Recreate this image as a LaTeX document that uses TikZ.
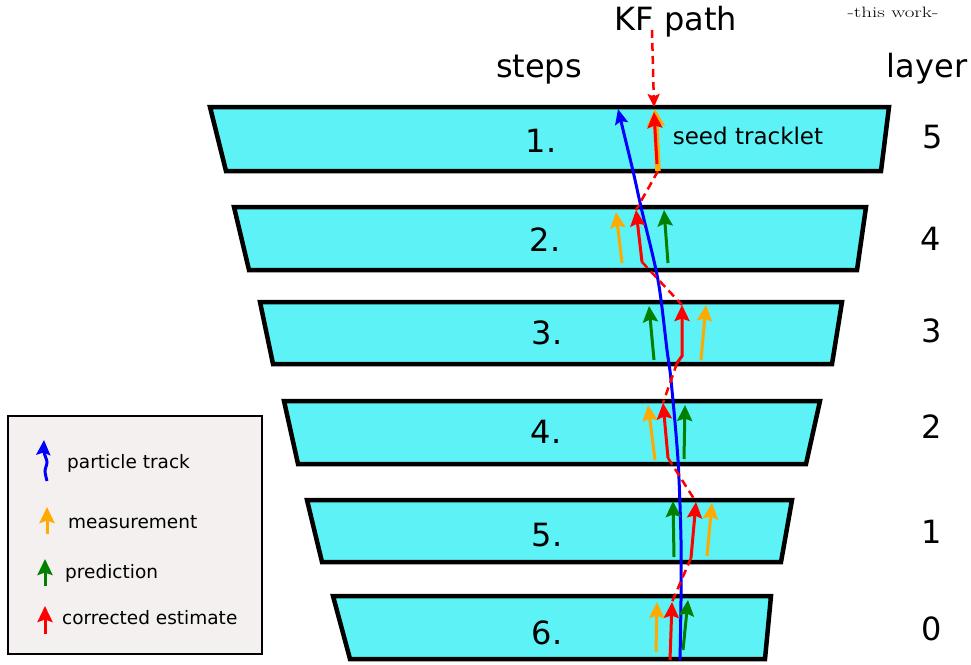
\documentclass[tikz,border=0pt]{standalone}
\usepackage{fontspec}
\newfontfamily\dv{DejaVu Sans}
\usetikzlibrary{arrows.meta}
\definecolor{layercyan}{HTML}{5DF2F5}
\definecolor{legbg}{HTML}{F4F0EF}
\definecolor{meas}{HTML}{FFAA00}
\definecolor{pred}{HTML}{008000}
\begin{document}
\begin{tikzpicture}[x=1pt,y=-1pt,
  layerbox/.style={draw=black,line width=4.5pt,fill=layercyan,line join=miter},
  numlbl/.style={font=\dv\fontsize{32}{38}\selectfont,anchor=base,inner sep=0pt},
  headlbl/.style={font=\dv\fontsize{32}{38}\selectfont,anchor=base,inner sep=0pt},
  leglbl/.style={font=\dv\fontsize{18.5}{22}\selectfont,anchor=base west,inner sep=0pt},
  vec/.style={line width=3pt,-{Stealth[length=16pt,width=15pt,inset=2.5pt]}},
  measvec/.style={vec,meas},
  predvec/.style={vec,pred},
  corrvec/.style={vec,red},
  kf/.style={red,line width=2.5pt,dash pattern=on 8pt off 5pt},
]
\useasboundingbox (0,0) rectangle (971,664);

% layers
\draw[layerbox] (210,107) -- (889,107) -- (881,171) -- (226,171) -- cycle;
\draw[layerbox] (234,207) -- (866,207) -- (857,270) -- (249,270) -- cycle;
\draw[layerbox] (260,302) -- (842,302) -- (832,364) -- (273,364) -- cycle;
\draw[layerbox] (284,401) -- (820,401) -- (806,464) -- (298,464) -- cycle;
\draw[layerbox] (307,500) -- (792,500) -- (781,562) -- (322,562) -- cycle;
\draw[layerbox] (333,596) -- (771,596) -- (765,659) -- (350,659) -- cycle;

% headings
\node[headlbl] (kfpath) at (676,30) {KF path};
\node[headlbl] (steps) at (539,77) {steps};
\node[headlbl] (layer) at (927,77) {layer};
\node[anchor=base,inner sep=0pt,font=\rmfamily\fontsize{15}{18}\selectfont] (thiswork) at (893,17) {\scalebox{1.4}[1]{-this work-}};

% step numbers
\node[numlbl] (s1) at (541,152) {1.};
\node[numlbl] (s2) at (545,251) {2.};
\node[numlbl] (s3) at (547,344) {3.};
\node[numlbl] (s4) at (546,443) {4.};
\node[numlbl] (s5) at (547,546) {5.};
\node[numlbl] (s6) at (547,644) {6.};

% layer numbers
\node[numlbl] (l5) at (933,148) {5};
\node[numlbl] (l4) at (931,250) {4};
\node[numlbl] (l3) at (932,342) {3};
\node[numlbl] (l2) at (932,438) {2};
\node[numlbl] (l1) at (932,543) {1};
\node[numlbl] (l0) at (932,640) {0};

\node[font=\dv\fontsize{23}{27}\selectfont,anchor=base,inner sep=0pt] (seed) at (748,144) {seed tracklet};

% coordinates of vectors
\coordinate (kftop) at (652,30);
\coordinate (kfin) at (654,107);
% layer 5 (seed)
\coordinate (o5b) at (658,171); \coordinate (o5t) at (655,109);
\coordinate (r5b) at (657,164); \coordinate (r5t) at (654,112);
% layer 4
\coordinate (o4b) at (622,263); \coordinate (o4t) at (616,212);
\coordinate (g4b) at (668,263); \coordinate (g4t) at (664,210);
\coordinate (r4b) at (642,262); \coordinate (r4t) at (636,210);
% layer 3
\coordinate (o3b) at (701,360); \coordinate (o3t) at (706,305);
\coordinate (g3b) at (654,360); \coordinate (g3t) at (649,306);
\coordinate (r3k) at (677,363); \coordinate (r3b) at (682,356); \coordinate (r3t) at (682,305);
% layer 2
\coordinate (o2b) at (655,460); \coordinate (o2t) at (648,405);
\coordinate (g2b) at (684,459); \coordinate (g2t) at (685,405);
\coordinate (r2b) at (668,458); \coordinate (r2t) at (663,403);
% layer 1
\coordinate (o1b) at (707,556); \coordinate (o1t) at (712,503);
\coordinate (g1b) at (674,557); \coordinate (g1t) at (673,501);
\coordinate (r1b) at (691,558); \coordinate (r1t) at (696,502);
% layer 0
\coordinate (o0b) at (656,652); \coordinate (o0t) at (657,602);
\coordinate (g0b) at (683,650); \coordinate (g0t) at (688,600);
\coordinate (r0b) at (670,660); \coordinate (r0t) at (672,602);

% particle track
\draw[blue,line width=3pt,-{Stealth[length=15pt,width=13pt,inset=2.5pt]}]
  plot[smooth] coordinates {(680,660) (681,600) (681,540) (678,460) (671,380) (667,350) (658,280) (641,207) (633,171) (618,109)};

% KF dashed path
\draw[kf,-{Stealth[length=13pt,width=12pt,inset=2.5pt]}] (kftop) -- (kfin);
\draw[kf] (o5b) -- (r4t);
\draw[kf] (r4b) -- (r3t);
\draw[kf] (r3k) -- (r2t);
\draw[kf] (r2b) -- (r1t);
\draw[kf] (r1b) -- (r0t);

% seed
\draw[meas,line width=5.5pt,-{Stealth[length=17pt,width=18pt,inset=3pt]}] (o5b) -- (o5t);
\draw[corrvec] (r5b) -- (r5t);

% measurements
\draw[measvec] (o4b) -- (o4t);
\draw[measvec] (o3b) -- (o3t);
\draw[measvec] (o2b) -- (o2t);
\draw[measvec] (o1b) -- (o1t);
\draw[measvec] (o0b) -- (o0t);
% predictions
\draw[predvec] (g4b) -- (g4t);
\draw[predvec] (g3b) -- (g3t);
\draw[predvec] (g2b) -- (g2t);
\draw[predvec] (g1b) -- (g1t);
\draw[predvec] (g0b) -- (g0t);
% corrected
\draw[corrvec] (r4b) -- (r4t);
\draw[corrvec] (r3k) -- (r3b) -- (r3t);
\draw[corrvec] (r2b) -- (r2t);
\draw[corrvec] (r1b) -- (r1t);
\draw[corrvec] (r0b) -- (r0t);

% legend
\draw[fill=legbg,line width=2.5pt] (8,416) rectangle (262,654);
\draw[blue,line width=3pt,-{Stealth[length=15pt,width=14pt,inset=2.5pt]}]
  plot[smooth] coordinates {(47,481) (45,471) (47,462) (44,452) (44,440)};
\node[leglbl] (lt) at (67,468) {particle track};
\draw[measvec] (47,534) -- (47,507);
\node[leglbl] (lm) at (68,528) {measurement};
\draw[predvec] (45,586) -- (45,559);
\node[leglbl] (lp) at (65,578) {prediction};
\draw[corrvec] (45,634) -- (45,606);
\node[leglbl] (lc) at (62,624) {corrected estimate};
\end{tikzpicture}
\end{document}
